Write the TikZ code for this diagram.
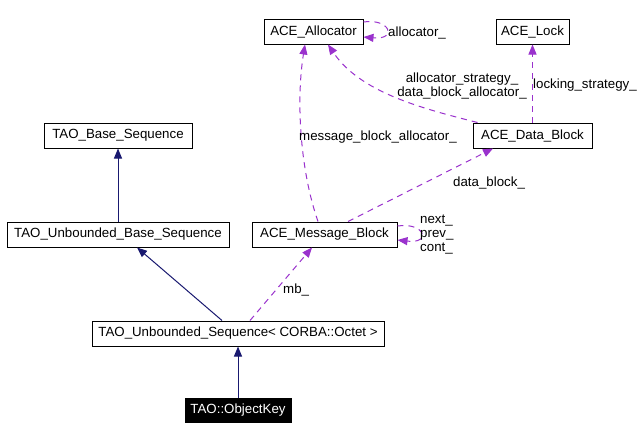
\documentclass[tikz,border=0pt]{standalone}
\usepackage{fontspec}
\setmainfont{Liberation Sans}
\usetikzlibrary{arrows.meta}
\definecolor{navyc}{RGB}{25,25,112}
\definecolor{purp}{RGB}{154,50,205}
\tikzset{
  cls/.style={draw=black, line width=1pt, inner sep=0pt, minimum height=25pt, font=\fontsize{13.3}{15}\selectfont},
  lbl/.style={inner sep=0pt, font=\fontsize{13.3}{14}\selectfont},
  inh/.style={draw=navyc, line width=1pt, -{Triangle[length=10pt,width=8pt]}},
  use/.style={draw=purp, line width=1pt, dash pattern=on 6pt off 5pt, -{Triangle[length=10pt,width=8pt]}},
}
\begin{document}
\begin{tikzpicture}[x=1pt,y=-1pt]
\useasboundingbox[fill=white] (0,0) rectangle (644,440);
% classes
\node[cls, minimum width=99pt] (alloc) at (313.5,31.5) {ACE\_Allocator};
\node[cls, minimum width=73pt] (lock) at (532.5,31.5) {ACE\_Lock};
\node[cls, minimum width=119pt] (db) at (532.5,135.5) {ACE\_Data\_Block};
\node[cls, minimum width=148pt] (base) at (118,135.5) {TAO\_Base\_Sequence};
\node[cls, minimum width=222pt] (ub) at (118,234.5) {TAO\_Unbounded\_Base\_Sequence};
\node[cls, minimum width=145pt] (mb) at (324.5,234.5) {ACE\_Message\_Block};
\node[cls, minimum width=292pt] (us) at (238,333.5) {TAO\_Unbounded\_Sequence< CORBA::Octet >};
\node[cls, minimum width=106pt, minimum height=24pt, fill=black, text=white] (ok) at (238,410) {TAO::ObjectKey};
% inheritance
\draw[inh] (ub.north) -- (base.south);
\draw[inh] ([xshift=-16pt]us.north) -- ([xshift=19pt]ub.south);
\draw[inh] (ok.north) -- (us.south);
% usage
\draw[use] ([xshift=12pt]us.north) -- ([xshift=-12.5pt]mb.south);
\draw[use] ([xshift=-6.5pt]mb.north) .. controls (300,170) and (296,100) .. ([xshift=-8.5pt]alloc.south);
\draw[use] ([xshift=23.5pt]mb.north) -- ([xshift=-39.5pt]db.south);
\draw[use] ([xshift=-55pt]db.north) .. controls (420,108) and (360,92) .. ([xshift=14.5pt]alloc.south);
\draw[use] (db.north) -- (lock.south);
\draw[use] ([yshift=9.5pt]alloc.east) .. controls (390,18) and (398,40) .. ([yshift=-5.5pt]alloc.east);
\draw[use] ([yshift=8.5pt]mb.east) .. controls (425,222) and (432,244) .. ([yshift=-5.5pt]mb.east);
% labels
\node[lbl, anchor=west] (l1) at (388,32.5) {allocator\_};
\node[lbl, align=center] (l2) at (462,86) {allocator\_strategy\_\\data\_block\_allocator\_};
\node[lbl, anchor=west] (l3) at (533,85.5) {locking\_strategy\_};
\node[lbl, anchor=west] (l4) at (299,137.5) {message\_block\_allocator\_};
\node[lbl, anchor=west] (l5) at (453,182.5) {data\_block\_};
\node[lbl, anchor=west] (l6) at (283,289.5) {mb\_};
\node[lbl, anchor=west, align=left] (l7) at (420,235) {next\_\\prev\_\\cont\_};
\end{tikzpicture}
\end{document}
